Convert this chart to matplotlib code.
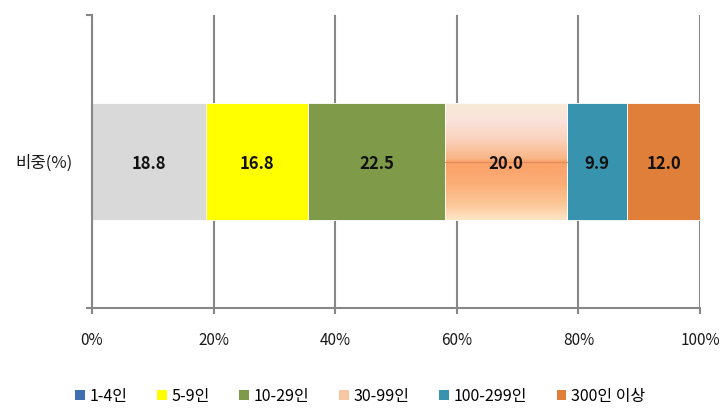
import numpy as np
import matplotlib
matplotlib.use("Agg")
import matplotlib.pyplot as plt
from matplotlib.patches import Patch
from matplotlib.colors import LinearSegmentedColormap

plt.rcParams['font.family'] = ['Noto Sans CJK KR', 'DejaVu Sans']

# ---------------- Données
categorie = ["비중(%)"]
groupes = ["1-4인", "5-9인", "10-29인", "30-99인", "100-299인", "300인 이상"]
valeurs = [18.8, 16.8, 22.5, 20.0, 9.9, 12.0]
xticks = [0, 20, 40, 60, 80, 100]

couleurs_barres = ["#D9D9D9", "#FFFF00", "#7F9A48", None, "#3893AE", "#E07F3A"]
couleurs_legende = ["#3F6FB0", "#FFFF00", "#7F9A48", "#F9C7A2", "#3893AE", "#E07F3A"]
gris = "#878787"

fig = plt.figure(figsize=(7.25, 4.09), dpi=100)
ax = fig.add_axes([0.1269, 0.2469, 0.8386, 0.7164])

# ---------------- Barres empilées
gauche = 0.0
for nom, v, c in zip(groupes, valeurs, couleurs_barres):
    if c is None:
        b = ax.barh(0, v, left=gauche, height=0.4, color="none",
                    edgecolor="white", linewidth=0.6, zorder=3)
        # dégradé vertical pour la série 30-99인
        degrade = LinearSegmentedColormap.from_list("deg", [
            (0.00, "#FDE5C6"), (0.12, "#FCC99C"), (0.30, "#FBAE78"),
            (0.45, "#FBA36B"), (0.50, "#FAA46D"), (0.52, "#F9B585"),
            (0.68, "#FAD2BC"), (0.85, "#FBE3DC"), (1.00, "#F8EBD6")])
        img = ax.imshow(np.linspace(0, 1, 200).reshape(-1, 1), cmap=degrade,
                        aspect="auto", extent=[gauche, gauche + v, -0.2, 0.2],
                        origin="lower", zorder=2)
        img.set_clip_path(b[0])
        ax.plot([gauche, gauche + v], [0.0, 0.0], color="#E3875C",
                linewidth=0.8, zorder=3)
    else:
        ax.barh(0, v, left=gauche, height=0.4, color=c,
                edgecolor="white", linewidth=0.6, zorder=2)
    ax.text(gauche + v / 2, -0.01, f"{v:.1f}", ha="center", va="center",
            fontsize=12, fontweight="bold", color="#111111", zorder=4)
    gauche += v

ax.set_xlim(0, 100)
ax.set_ylim(-0.5, 0.5)

# ---------------- Axes et grille
ax.set_xticks(xticks)
ax.set_xticklabels([f"{t}%" for t in xticks], fontsize=11, color="#1a1a1a")
ax.set_yticks([0])
ax.set_yticklabels(categorie, fontsize=12, color="#1a1a1a")
ax.set_yticks([-0.5, 0.5], minor=True)
ax.tick_params(axis="y", which="major", length=0, pad=14)
ax.tick_params(axis="y", which="minor", length=4, color=gris, width=1.5)
ax.tick_params(axis="x", length=4, color=gris, width=1.5, pad=13)
ax.grid(axis="x", color=gris, linewidth=1.5, zorder=0)
ax.set_axisbelow(True)
for cote in ["top", "right"]:
    ax.spines[cote].set_visible(False)
for cote in ["left", "bottom"]:
    ax.spines[cote].set_color(gris)
    ax.spines[cote].set_linewidth(1.5)

# ---------------- Légende
poignees = [Patch(facecolor=c, edgecolor="none") for c in couleurs_legende]
fig.legend(poignees, groupes, loc="lower left", bbox_to_anchor=(0.084, -0.025),
           ncol=6, frameon=False, fontsize=11.5, handlelength=0.6,
           handleheight=0.6, handletextpad=0.3, columnspacing=1.85)

fig.savefig("out.png", dpi=100)
